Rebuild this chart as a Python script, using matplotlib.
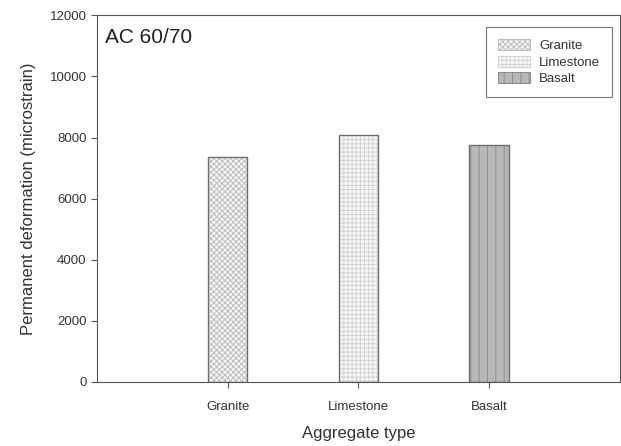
import matplotlib
matplotlib.use("Agg")
import matplotlib.pyplot as plt
from matplotlib.patches import Patch

# values
categories = ["Granite", "Limestone", "Basalt"]
deformation = [7380, 8100, 7760]
face_colors = ["#f6f6f6", "#f7f7f7", "#b8b8b8"]
hatch_colors = ["#bdbdbd", "#d4d4d4", "#8e8e8e"]
hatches = ["xxxxxx", "++++", "||"]

plt.rcParams["font.family"] = ["Liberation Sans", "DejaVu Sans"]
plt.rcParams["hatch.linewidth"] = 0.7

fig = plt.figure(figsize=(6.21, 4.46), dpi=100)
ax = fig.add_axes([0.156, 0.1435, 0.842, 0.822])

x = list(range(len(categories)))
# hatched fill, then an outline on top
fills = ax.bar(x, deformation, width=0.3, color=face_colors,
               edgecolor=hatch_colors, linewidth=0)
for b, h in zip(fills, hatches):
    b.set_hatch(h)
ax.bar(x, deformation, width=0.3, fill=False, edgecolor="#6e6e6e",
       linewidth=1.0)

ax.set_xlim(-1.0, 3.0)
ax.set_ylim(0, 12000)
ax.set_yticks(range(0, 12001, 2000))
ax.set_xticks(x)
ax.set_xticklabels(categories, fontsize=9.5, color="#333333")
ax.tick_params(axis="y", labelsize=9.5, labelcolor="#333333")
ax.tick_params(axis="x", pad=10)
ax.tick_params(direction="out", length=4, color="#555555")
for s in ax.spines.values():
    s.set_color("#555555")

ax.set_xlabel("Aggregate type", fontsize=12, color="#333333", labelpad=9)
ax.set_ylabel("Permanent deformation (microstrain)", fontsize=12,
              color="#333333", labelpad=10)
ax.text(0.015, 0.965, "AC 60/70", transform=ax.transAxes, fontsize=15,
        va="top", ha="left", color="#222222")

# legend handles: proxy patches matching the hatched bars
handles = [Patch(facecolor=fc, edgecolor=hc, hatch=h, linewidth=0.8)
           for fc, hc, h in zip(face_colors, hatch_colors, hatches)]
leg = ax.legend(handles=handles, labels=categories, loc="upper right",
                bbox_to_anchor=(0.985, 0.967), borderaxespad=0,
                fontsize=9.5, frameon=True, fancybox=False,
                edgecolor="#555555", handlelength=2.4, handleheight=0.9,
                labelspacing=0.25, borderpad=0.9, handletextpad=0.7)
leg.get_frame().set_linewidth(0.8)
for t in leg.get_texts():
    t.set_color("#333333")

fig.savefig("out.png", dpi=100)
